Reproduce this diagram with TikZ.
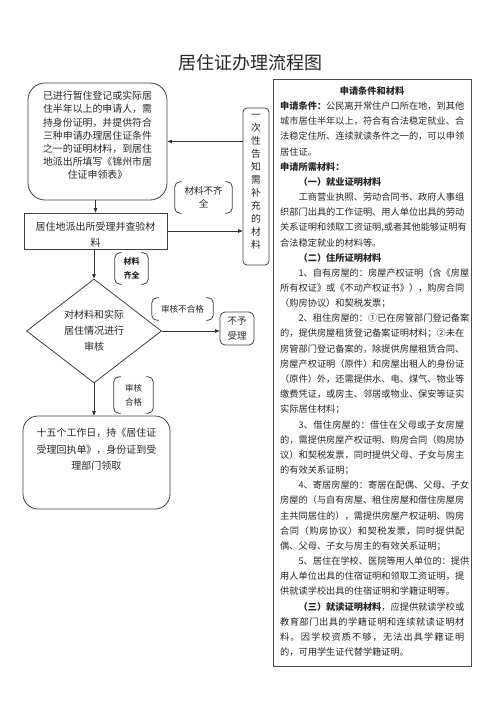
\documentclass[tikz,border=0pt]{standalone}
\usepackage{fontspec}
\setmainfont{Noto Sans CJK SC}
\usetikzlibrary{shapes.geometric,arrows.meta}
\newcommand\mybrk[1]{%
  \draw[bline] ([xshift=7pt]#1.north west) -- (#1.north west) -- (#1.south west) -- ([xshift=7pt]#1.south west);
  \draw[bline] ([xshift=-7pt]#1.north east) -- (#1.north east) -- (#1.south east) -- ([xshift=-7pt]#1.south east);}
\makeatletter
\newcommand\jl[2]{\hbox to #1{\jl@first#2\relax}}
\def\jl@first#1{#1\jl@loop}
\def\jl@loop#1{\ifx#1\relax\else\hfil#1\expandafter\jl@loop\fi}
\makeatother
\newcommand\fl[1]{\jl{184pt}{#1}}
\newcommand\il[1]{\jl{165.6pt}{#1}}
\begin{document}
\begin{tikzpicture}[x=1pt,y=-1pt,
  every node/.style={text=black!85, inner sep=0pt},
  box/.style={draw=black!75, line width=0.8pt},
  bline/.style={draw=black!75, line width=0.8pt, rounded corners=5pt},
  arr/.style={draw=black!80, line width=0.7pt, -{Triangle[length=4.5pt,width=3.5pt]}},
  pl/.style={anchor=west, font=\fontsize{9.2}{10}\selectfont},
  brkt/.style={align=center}
]
\useasboundingbox (0,0) rectangle (500,707);

% title
\node[font=\fontsize{18}{20}\selectfont] (title) at (250,63) {居住证办理流程图};

% box 1
\node[box, rounded corners=17pt, minimum width=139pt, minimum height=117pt] (b1) at (97.5,141.5) {};
\node[font=\fontsize{9.9}{13.2}\selectfont, align=center] (t1) at (97.5,135.5)
  {已进行暂住登记或实际居\\住半年以上的申请人，需\\持身份证明，并提供符合\\三种申请办理居住证条件\\之一的证明材料，到居住\\地派出所填写《锦州市居\\住证申领表》};

% box 2
\node[box, minimum width=143pt, minimum height=36pt] (b2) at (95.5,231) {};
\node[font=\fontsize{10}{16}\selectfont, align=center] (t2) at (95.5,235) {居住地派出所受理并查验材\\料};

% vertical box
\node[box, rounded corners=4pt, minimum width=26pt, minimum height=157pt] (vb) at (256,186.5) {};
\node[font=\fontsize{9.8}{13}\selectfont, align=center] (tv) at (256,182) {一\\次\\性\\告\\知\\需\\补\\充\\的\\材\\料};

% brackets
\node[brkt, font=\fontsize{9.5}{13}\selectfont, minimum width=57pt, minimum height=31pt] (k1) at (203.5,197.5) {材料不齐\\全};
\mybrk{k1}
\node[brkt, font=\bfseries\fontsize{8}{14}\selectfont, minimum width=33pt, minimum height=31pt] (k2) at (131.5,268.5) {材料\\齐全};
\mybrk{k2}
\node[brkt, font=\fontsize{8.6}{10}\selectfont, minimum width=61pt, minimum height=22pt] (k3) at (182.5,309) {审核不合格};
\mybrk{k3}
\node[brkt, font=\fontsize{8.5}{14}\selectfont, minimum width=39pt, minimum height=36pt] (k4) at (133.5,395) {审核\\合格};
\mybrk{k4}

% diamond
\node[box, diamond, minimum width=135pt, minimum height=104pt] (d) at (94,331) {};
\node[font=\fontsize{10}{16}\selectfont, align=center] (td) at (94,331) {对材料和实际\\居住情况进行\\审核};

% reject box
\node[box, rounded corners=5pt, minimum width=34pt, minimum height=33pt, align=center, font=\fontsize{9.5}{15}\selectfont] (buyu) at (237,328.5) {不予\\受理};

% box 4
\node[box, rounded corners=15pt, minimum width=147pt, minimum height=93pt] (b4) at (96.5,462.5) {};
\node[font=\fontsize{10}{16.5}\selectfont, align=center] (t4) at (96.5,449.5) {十五个工作日，持《居住证\\受理回执单》，身份证到受\\理部门领取};

% arrows
\draw[arr] (vb.west |- b1.east) -- (b1.east);
\draw[arr] (b2.east) -- (b2.east -| vb.west);
\draw[arr] (b2.north |- b1.south) -- (b2.north);
\draw[arr] (b2.south -| d.north) -- (d.north);
\draw[arr] (d.east) -- (d.east -| buyu.west);
\draw[arr] (d.south) -- (b4.north -| d.south);

% right panel
\node[draw=black!70, line width=0.8pt, minimum width=198pt, minimum height=587pt] (p) at (372,372.5) {};
\node[font=\bfseries\fontsize{9.2}{10}\selectfont] (l1) at (372,91) {申请条件和材料};
\node[pl] (l2) at (280,106) {{\bfseries 申请条件：}公民离开常住户口所在地，到其他};
\node[pl] (l3) at (280,121.17) {\fl{城市居住半年以上，符合有合法稳定就业、合}};
\node[pl] (l4) at (280,136.34) {\fl{法稳定住所、连续就读条件之一的，可以申领}};
\node[pl] (l5) at (280,151.51) {居住证。};
\node[pl] (l6) at (280,166.68) {\bfseries 申请所需材料：};
\node[pl] (l7) at (298.4,181.85) {\bfseries （一）就业证明材料};
\node[pl] (l8) at (298.4,197.02) {\il{工商营业执照、劳动合同书、政府人事组}};
\node[pl] (l9) at (280,212.19) {\fl{织部门出具的工作证明、用人单位出具的劳动}};
\node[pl] (l10) at (280,227.36) {\fl{关系证明和领取工资证明{,}或者其他能够证明有}};
\node[pl] (l11) at (280,242.53) {合法稳定就业的材料等。};
\node[pl] (l12) at (298.4,257.7) {\bfseries （二）住所证明材料};
\node[pl] (l13) at (298.4,272.87) {\il{1、自有房屋的：房屋产权证明（含《房屋}};
\node[pl] (l14) at (280,288.04) {\fl{所有权证》或《不动产权证书》），购房合同}};
\node[pl] (l15) at (280,303.21) {（购房协议）和契税发票；};
\node[pl] (l16) at (298.4,318.38) {\il{2、租住房屋的：①已在房管部门登记备案}};
\node[pl] (l17) at (280,333.55) {\fl{的，提供房屋租赁登记备案证明材料；②未在}};
\node[pl] (l18) at (280,348.72) {\fl{房管部门登记备案的，除提供房屋租赁合同、}};
\node[pl] (l19) at (280,363.89) {\fl{房屋产权证明（原件）和房屋出租人的身份证}};
\node[pl] (l20) at (280,379.06) {\fl{（原件）外，还需提供水、电、煤气、物业等}};
\node[pl] (l21) at (280,394.23) {\fl{缴费凭证，或房主、邻居或物业、保安等证实}};
\node[pl] (l22) at (280,409.4) {实际居住材料；};
\node[pl] (l23) at (298.4,424.57) {\il{3、借住房屋的：借住在父母或子女房屋}};
\node[pl] (l24) at (280,439.74) {\fl{的，需提供房屋产权证明、购房合同（购房协}};
\node[pl] (l25) at (280,454.91) {\fl{议）和契税发票，同时提供父母、子女与房主}};
\node[pl] (l26) at (280,470.08) {的有效关系证明；};
\node[pl] (l27) at (298.4,485.25) {\il{4、寄居房屋的：寄居在配偶、父母、子女}};
\node[pl] (l28) at (280,500.42) {\fl{房屋的（与自有房屋、租住房屋和借住房屋房}};
\node[pl] (l29) at (280,515.59) {\fl{主共同居住的），需提供房屋产权证明、购房}};
\node[pl] (l30) at (280,530.76) {\fl{合同（购房协议）和契税发票，同时提供配}};
\node[pl] (l31) at (280,545.93) {偶、父母、子女与房主的有效关系证明；};
\node[pl] (l32) at (298.4,561.1) {\il{5、居住在学校、医院等用人单位的：提供}};
\node[pl] (l33) at (280,576.27) {\fl{用人单位出具的住宿证明和领取工资证明，提}};
\node[pl] (l34) at (280,591.44) {供就读学校出具的住宿证明和学籍证明等。};
\node[pl] (l35) at (298.4,606.61) {{\bfseries （三）就读证明材料}，应提供就读学校或};
\node[pl] (l36) at (280,621.78) {\fl{教育部门出具的学籍证明和连续就读证明材}};
\node[pl] (l37) at (280,636.95) {\fl{料。因学校资质不够，无法出具学籍证明}};
\node[pl] (l38) at (280,652.12) {的，可用学生证代替学籍证明。};
\end{tikzpicture}
\end{document}
